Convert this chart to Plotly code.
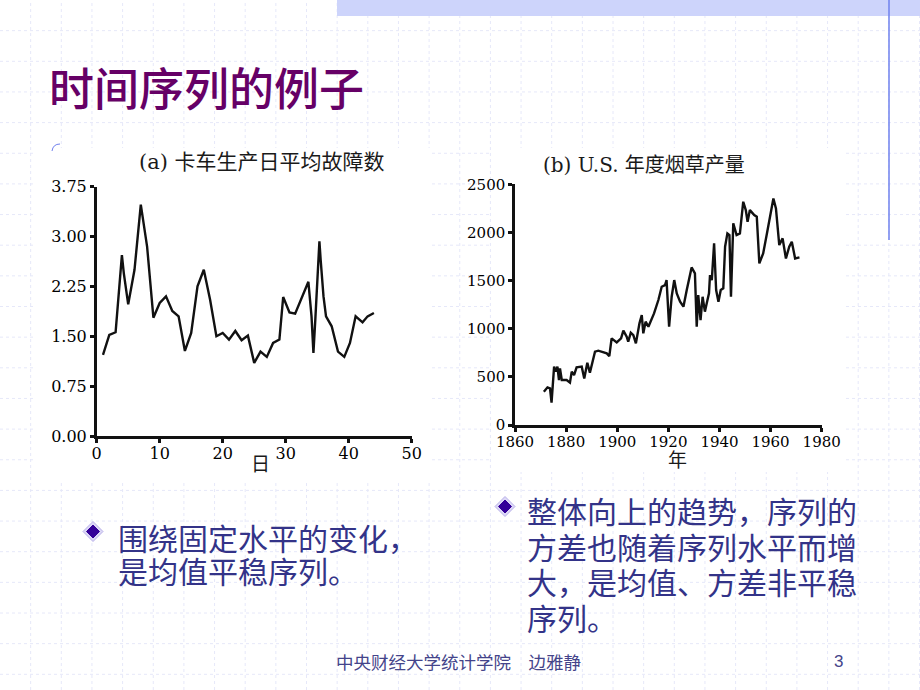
import plotly.graph_objects as go

W, H = 920, 690

# ---- data: (a) truck defects per day ----
day_a = [1, 2, 3, 4, 4.3, 5, 6, 7, 8, 9, 10, 11, 12, 13, 14, 15, 16, 17, 18, 19,
         20, 21, 22, 23, 24, 25, 26, 27, 28, 29, 29.6, 30.6, 31.5, 33.6, 34.1, 34.4,
         34.7, 35.35, 35.55, 36.0, 36.4, 37.3, 38.3, 39.3, 40.2, 41.1, 42.2, 43, 44]
val_a = [1.22, 1.52, 1.56, 2.72, 2.45, 1.98, 2.50, 3.48, 2.85, 1.78, 2.00, 2.10, 1.88, 1.80,
         1.28, 1.55, 2.25, 2.50, 2.05, 1.50, 1.55, 1.45, 1.58, 1.44, 1.51, 1.10, 1.27, 1.19,
         1.40, 1.45, 2.09, 1.86, 1.84, 2.32, 1.80, 1.25, 1.75, 2.93, 2.65, 2.10, 1.80, 1.65,
         1.27, 1.19, 1.40, 1.80, 1.71, 1.80, 1.85]
ticks_a = [0, 0.75, 1.5, 2.25, 3.0, 3.75]
xticks_a = [0, 10, 20, 30, 40, 50]

# ---- data: (b) US annual tobacco production ----
year_b = [1871.3, 1872.7, 1873.7, 1874.3, 1875.3, 1875.9, 1876.6, 1877.2, 1877.6, 1878.3,
          1880.2, 1881.5, 1882.2, 1883.1, 1884.1, 1886.1, 1887.1, 1888.3, 1889.3, 1891.3,
          1892.6, 1895.9, 1896.9, 1897.8, 1899.8, 1901.5, 1902.4, 1903.7, 1904.3, 1905.3,
          1906.3, 1907.3, 1908.7, 1909.6, 1910.2, 1911.1, 1912.2, 1914.4, 1916.1, 1917.4,
          1918.7, 1919.3, 1920.3, 1921.3, 1922.3, 1923.3, 1924.6, 1925.9, 1927.2, 1929.1,
          1930.4, 1931.1, 1931.7, 1932.6, 1933.4, 1934.3, 1935.0, 1935.9, 1936.3, 1937.0,
          1937.9, 1938.7, 1939.6, 1940.5, 1941.5, 1942.2, 1943.1, 1943.9, 1944.5, 1945.4,
          1946.7, 1948.0, 1949.3, 1950.3, 1951.0, 1951.9, 1953.6, 1954.6, 1955.6, 1957.1,
          1958.7, 1959.8, 1961.1, 1962.1, 1963.4, 1964.7, 1966.0, 1967.3, 1968.3, 1969.6,
          1971.3]
prod_b = [346, 391, 380, 232, 606, 554, 606, 467, 588, 467,
          467, 440, 554, 519, 599, 606, 484, 647, 543, 761,
          772, 744, 716, 900, 858, 900, 980, 917, 865, 959,
          934, 848, 1056, 1142, 952, 1073, 1021, 1159, 1298, 1436,
          1453, 1505, 1021, 1332, 1505, 1367, 1281, 1229, 1402, 1637,
          1575, 1021, 1350, 1090, 1332, 1177, 1263, 1367, 1557, 1505,
          1886, 1402, 1281, 1402, 1419, 1852, 1990, 1973, 1332, 2094,
          1973, 1990, 2319, 2232, 2111, 2232, 2180, 2163, 1679, 1782,
          2007, 2163, 2353, 2249, 1869, 1938, 1730, 1852, 1904, 1730,
          1741]
ticks_b = [0, 500, 1000, 1500, 2000, 2500]
xticks_b = [1860, 1880, 1900, 1920, 1940, 1960, 1980]

# ---- text ----
slide_title = "时间序列的例子"
title_a = "(a) 卡车生产日平均故障数"
title_b = "(b) U.S. 年度烟草产量"
xlabel_a = "日"
xlabel_b = "年"
bullet_a = ["围绕固定水平的变化，", "是均值平稳序列。"]
bullet_b = ["整体向上的趋势，序列的", "方差也随着序列水平而增", "大，是均值、方差非平稳", "序列。"]
footer = "中央财经大学统计学院　边雅静"
page_no = "3"


def px(x):
    return x / W


def py(y):
    return 1 - y / H


CJK = "Noto Sans CJK SC"
SERIF = "DejaVu Serif, Noto Sans CJK SC"
INK = "#111111"

fig = go.Figure()
fig.add_trace(go.Scatter(x=day_a, y=val_a, mode="lines", xaxis="x", yaxis="y",
                         line=dict(color=INK, width=2.4), showlegend=False,
                         hoverinfo="skip"))
fig.add_trace(go.Scatter(x=year_b, y=prod_b, mode="lines", xaxis="x2", yaxis="y2",
                         line=dict(color=INK, width=2.4), showlegend=False,
                         hoverinfo="skip"))

axis_common = dict(showline=True, linecolor=INK, linewidth=2.5, ticks="outside",
                   ticklen=4, tickwidth=2.5, tickcolor=INK, showgrid=False,
                   zeroline=False, fixedrange=True, automargin=False)

fig.update_layout(
    template="none",
    width=W, height=H, autosize=False,
    margin=dict(l=0, r=0, t=0, b=0, pad=0, autoexpand=False),
    paper_bgcolor="white", plot_bgcolor="rgba(0,0,0,0)",
    xaxis=dict(domain=[px(96.7), px(411.7)], range=[0, 50], tickvals=xticks_a,
               anchor="y", tickfont=dict(family=SERIF, size=16, color="#000000"),
               ticklabelstandoff=-3, **axis_common),
    yaxis=dict(domain=[py(436), py(186.7)], range=[0, 3.75], tickvals=ticks_a,
               tickformat=".2f", anchor="x", tickfont=dict(family=SERIF, size=16, color="#000000"),
               **axis_common),
    xaxis2=dict(domain=[px(515), px(821.7)], range=[1860, 1980], tickvals=xticks_b,
                anchor="y2", tickfont=dict(family=SERIF, size=15, color="#000000"),
                ticklabelstandoff=-3, **axis_common),
    yaxis2=dict(domain=[py(425), py(184.3)], range=[0, 2500], tickvals=ticks_b,
                anchor="x2", tickfont=dict(family=SERIF, size=15, color="#000000"),
                **axis_common),
)

shapes = []
grid_col = "#e6e8f9"
# faint dotted slide grid
gx = 30.65
i = 1
while i * gx < W:
    shapes.append(dict(type="line", xref="paper", yref="paper", x0=px(i * gx), x1=px(i * gx),
                       y0=0, y1=1, line=dict(color=grid_col, width=1, dash="dot"), layer="below"))
    i += 1
i = 1
while i * gx < H:
    shapes.append(dict(type="line", xref="paper", yref="paper", x0=0, x1=1,
                       y0=py(i * gx), y1=py(i * gx), line=dict(color=grid_col, width=1, dash="dot"),
                       layer="below"))
    i += 1
# white panels behind the chart pictures
shapes.append(dict(type="rect", xref="paper", yref="paper", x0=px(35), x1=px(430),
                   y0=py(480), y1=py(148), fillcolor="white", line=dict(width=0), layer="below"))
shapes.append(dict(type="rect", xref="paper", yref="paper", x0=px(492), x1=px(845),
                   y0=py(472), y1=py(148), fillcolor="white", line=dict(width=0), layer="below"))
# top band and vertical rule
shapes.append(dict(type="rect", xref="paper", yref="paper", x0=px(337), x1=1,
                   y0=py(16), y1=1, fillcolor="#cdd4fb", line=dict(width=0), layer="below"))
shapes.append(dict(type="line", xref="paper", yref="paper", x0=px(889), x1=px(889),
                   y0=py(240), y1=1, line=dict(color="#6f82ee", width=1.5), layer="below"))
# tiny arc mark near the left picture
shapes.append(dict(type="path", xref="paper", yref="paper",
                   path=f"M {px(52)} {py(151)} Q {px(53)} {py(144)} {px(60)} {py(144)}",
                   line=dict(color="#7080ee", width=1)))


def diamond(cx, cy, r, color, lc):
    path = (f"M {px(cx - r)} {py(cy)} L {px(cx)} {py(cy - r)} "
            f"L {px(cx + r)} {py(cy)} L {px(cx)} {py(cy + r)} Z")
    return dict(type="path", xref="paper", yref="paper", path=path, fillcolor=color,
                line=dict(color=lc, width=1), layer="above")


for (cx, cy) in [(93, 531.5), (505, 506.5)]:
    shapes.append(diamond(cx, cy, 10, "#dcd8f6", "#b8b0e8"))
    shapes.append(diamond(cx, cy, 6.5, "#330099", "#330099"))

fig.update_layout(shapes=shapes)

ann = []


def text(x, y, s, size, color, family=CJK, xanchor="left", weight="normal"):
    ann.append(dict(x=px(x), y=py(y), xref="paper", yref="paper", text=s, showarrow=False,
                    xanchor=xanchor, yanchor="middle",
                    font=dict(family=family, size=size, color=color, weight=weight)))


text(47, 86, slide_title, 45, "#660066", weight=500)
text(137, 162, title_a, 21, "#1a1a1a", SERIF)
text(541, 165, title_b, 20, "#1a1a1a", SERIF)
text(260, 464, xlabel_a, 19, "#1a1a1a", SERIF, "center")
text(677, 460, xlabel_b, 19, "#1a1a1a", SERIF, "center")
for k, s in enumerate(bullet_a):
    text(116, 537 + 33 * k, s, 30, "#333388")
for k, s in enumerate(bullet_b):
    text(525, 510 + 35.5 * k, s, 30, "#333388")
text(334, 661, footer, 17.5, "#44448a")
text(838, 661, page_no, 17, "#44448a", "Liberation Sans", "center")

fig.update_layout(annotations=ann)

fig.write_html("out.html")
